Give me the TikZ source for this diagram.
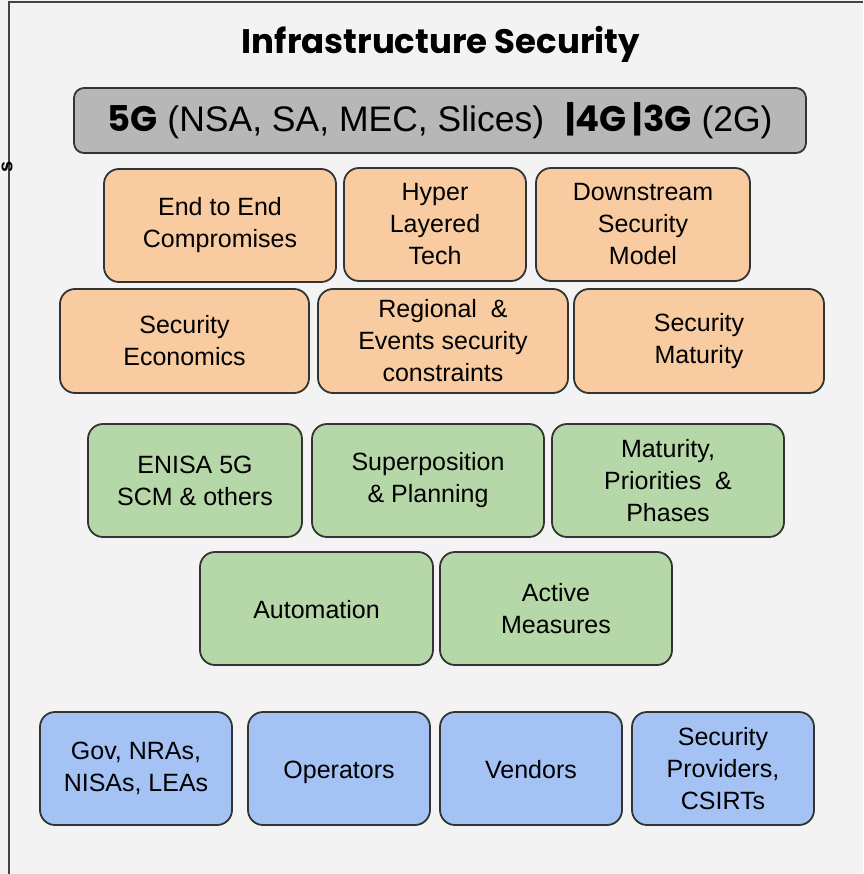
\documentclass[tikz,border=0pt]{standalone}
\usepackage{fontspec}
\setmainfont{Liberation Sans}
\newfontfamily\gothic{Poppins}
\definecolor{bgc}{HTML}{F3F3F3}
\definecolor{framec}{HTML}{444444}
\definecolor{edgec}{HTML}{333333}
\definecolor{greyc}{HTML}{B7B7B7}
\definecolor{orangec}{HTML}{F8CBA0}
\definecolor{greenc}{HTML}{B6D7A8}
\definecolor{bluec}{HTML}{A4C2F4}
\newcommand{\oneline}[1]{\raisebox{-10pt}[0pt][0pt]{#1}}
\begin{document}
\begin{tikzpicture}[x=1pt,y=-1pt,
  blk/.style={draw=edgec, line width=1.8pt, rounded corners=15pt, inner sep=0pt,
    align=center, font=\fontsize{25}{32}\selectfont, text=black},
  orangebox/.style={blk, fill=orangec},
  greenbox/.style={blk, fill=greenc},
  bluebox/.style={blk, fill=bluec},
  greybox/.style={blk, fill=greyc, rounded corners=10pt}
]
\fill[bgc] (0,0) rectangle (863,874);
\useasboundingbox (0,0) rectangle (863,874);
\draw[framec, line width=1.5pt] (9,874) -- (9,2) -- (863,2);
\node[rotate=90, inner sep=0pt, font=\bfseries\fontsize{20}{20}\selectfont] (cut) at (7,167) {s};

\node[inner sep=0pt, font=\gothic\bfseries\fontsize{34}{40}\selectfont] (title) at (441,44) {Infrastructure Security};

\node[greybox, minimum width=732pt, minimum height=65pt] (gens) at (440,120.5)
  {\fontsize{35.5}{38}\selectfont{\gothic\bfseries 5G} (NSA, SA, MEC, Slices)\hspace{0.6em}{\gothic\bfseries |4G\,|3G} (2G)};

\node[orangebox, minimum width=232pt, minimum height=113pt] (e2e) at (220,225.5) {End to End\\Compromises};
\node[orangebox, minimum width=182pt, minimum height=113pt] (hyper) at (435,224.5) {Hyper\\Layered\\Tech};
\node[orangebox, minimum width=214pt, minimum height=113pt] (down) at (643,224.5) {Downstream\\Security\\Model};

\node[orangebox, minimum width=249pt, minimum height=104pt] (econ) at (184.5,341) {Security\\Economics};
\node[orangebox, minimum width=250pt, minimum height=104pt] (region) at (443,341) {Regional \ \&\\Events security\\constraints};
\node[orangebox, minimum width=250pt, minimum height=104pt] (matur) at (699,341) {Security\\Maturity};

\node[greenbox, minimum width=214pt, minimum height=113pt] (enisa) at (195,480.5) {ENISA 5G\\SCM \& others};
\node[greenbox, minimum width=232pt, minimum height=113pt] (super) at (428,480.5) {Superposition\\\& Planning};
\node[greenbox, minimum width=232pt, minimum height=113pt] (prio) at (668,480.5) {Maturity,\\Priorities \ \&\\Phases};

\node[greenbox, minimum width=233pt, minimum height=113pt] (auto) at (316.5,608.5) {\oneline{Automation}};
\node[greenbox, minimum width=232pt, minimum height=113pt] (active) at (556,608.5) {Active\\Measures};

\node[bluebox, minimum width=192pt, minimum height=113pt] (gov) at (136,768.5) {Gov, NRAs,\\NISAs, LEAs};
\node[bluebox, minimum width=182pt, minimum height=113pt] (oper) at (339,768.5) {\oneline{Operators}};
\node[bluebox, minimum width=182pt, minimum height=113pt] (vend) at (531,768.5) {\oneline{Vendors}};
\node[bluebox, minimum width=182pt, minimum height=113pt] (secprov) at (723,768.5) {Security\\Providers,\\CSIRTs};
\end{tikzpicture}
\end{document}
